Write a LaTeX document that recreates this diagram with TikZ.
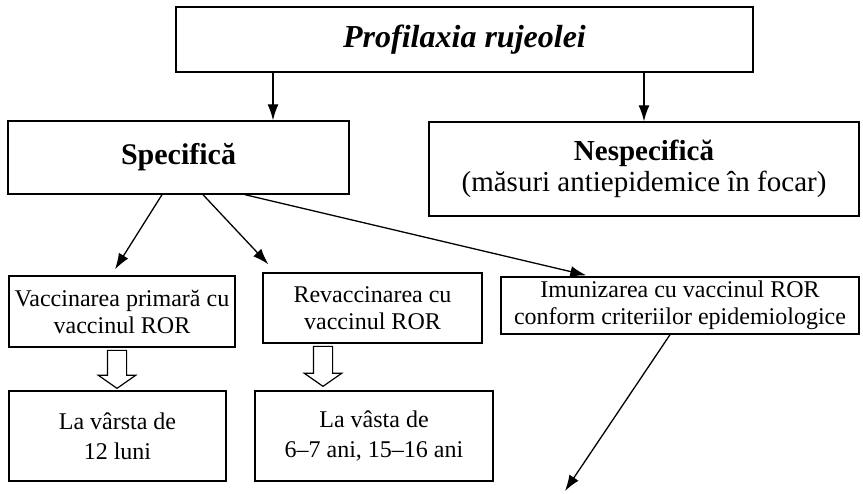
\documentclass[tikz,border=0pt]{standalone}
\usepackage{fontspec}
\setmainfont{Liberation Serif}
\usetikzlibrary{arrows.meta,shapes.arrows}

\begin{document}
\begin{tikzpicture}[x=1pt, y=-1pt,
		box/.style={draw, line width=1.4pt, align=center, inner sep=0pt, font=\fontsize{24}{27}\selectfont},
		arr/.style={line width=1.3pt, -{Latex[length=16pt, width=11pt]}},
		hollow/.style={draw, line width=1.2pt, single arrow, rotate=-90, inner sep=9pt,
			minimum width=36pt, single arrow head extend=9pt, single arrow tip angle=110}]

		\useasboundingbox (0,0) rectangle (863,494);

		%Titel
		\node[box, minimum width=577pt, minimum height=65pt, font=\fontsize{32}{36}\selectfont\bfseries\itshape] (prof) at (464.5,39.5) {Profilaxia rujeolei};

		%Zweite Reihe
		\node[box, minimum width=341pt, minimum height=73pt, font=\fontsize{30}{34}\selectfont\bfseries] (spec) at (178.5,157.5) {Specifică};
		\node[box, minimum width=430pt, minimum height=94pt, font=\fontsize{29}{31}\selectfont] (nesp) at (644,169) {\textbf{Nespecifică}\\(măsuri antiepidemice în focar)};

		%Dritte Reihe
		\node[box, minimum width=226pt, minimum height=71pt] (v1) at (122,311.5) {Vaccinarea primară cu\\vaccinul ROR};
		\node[box, minimum width=219pt, minimum height=70pt] (v2) at (372.5,308) {Revaccinarea cu\\vaccinul ROR};
		\node[box, minimum width=358pt, minimum height=57pt] (v3) at (680,305.5) {Imunizarea cu vaccinul ROR\\conform criteriilor epidemiologice};

		%Vierte Reihe
		\node[box, minimum width=217pt, minimum height=90pt, font=\fontsize{24}{30}\selectfont] (l1) at (117.5,436) {La vârsta de\\12 luni};
		\node[box, minimum width=238pt, minimum height=90pt, font=\fontsize{24}{30}\selectfont] (l2) at (374,436) {La vâsta de\\6–7 ani, 15–16 ani};

		%Pfeile
		\draw[arr] ([xshift=94.5pt]spec.north |- prof.south) -- ([xshift=94.5pt]spec.north);
		\draw[arr] (prof.south -| nesp.north) -- (nesp.north);
		\draw[arr] ([xshift=-16.5pt]spec.south) -- ([xshift=-7pt, yshift=6pt]v1.north);
		\draw[arr] ([xshift=24.5pt]spec.south) -- ([xshift=6pt, yshift=8pt]v2.north west);
		\draw[arr] ([xshift=66.5pt]spec.south) -- ([xshift=86pt, yshift=1pt]v3.north west);

		\coordinate (end) at (565,491);
		\draw[arr] ([xshift=-10pt]v3.south) -- (end);

		%Hohlpfeile
		\node[hollow, minimum height=38pt] (h1) at (117,366) {};
		\node[hollow, minimum height=40pt] (h2) at (323,363) {};

	\end{tikzpicture}
\end{document}
